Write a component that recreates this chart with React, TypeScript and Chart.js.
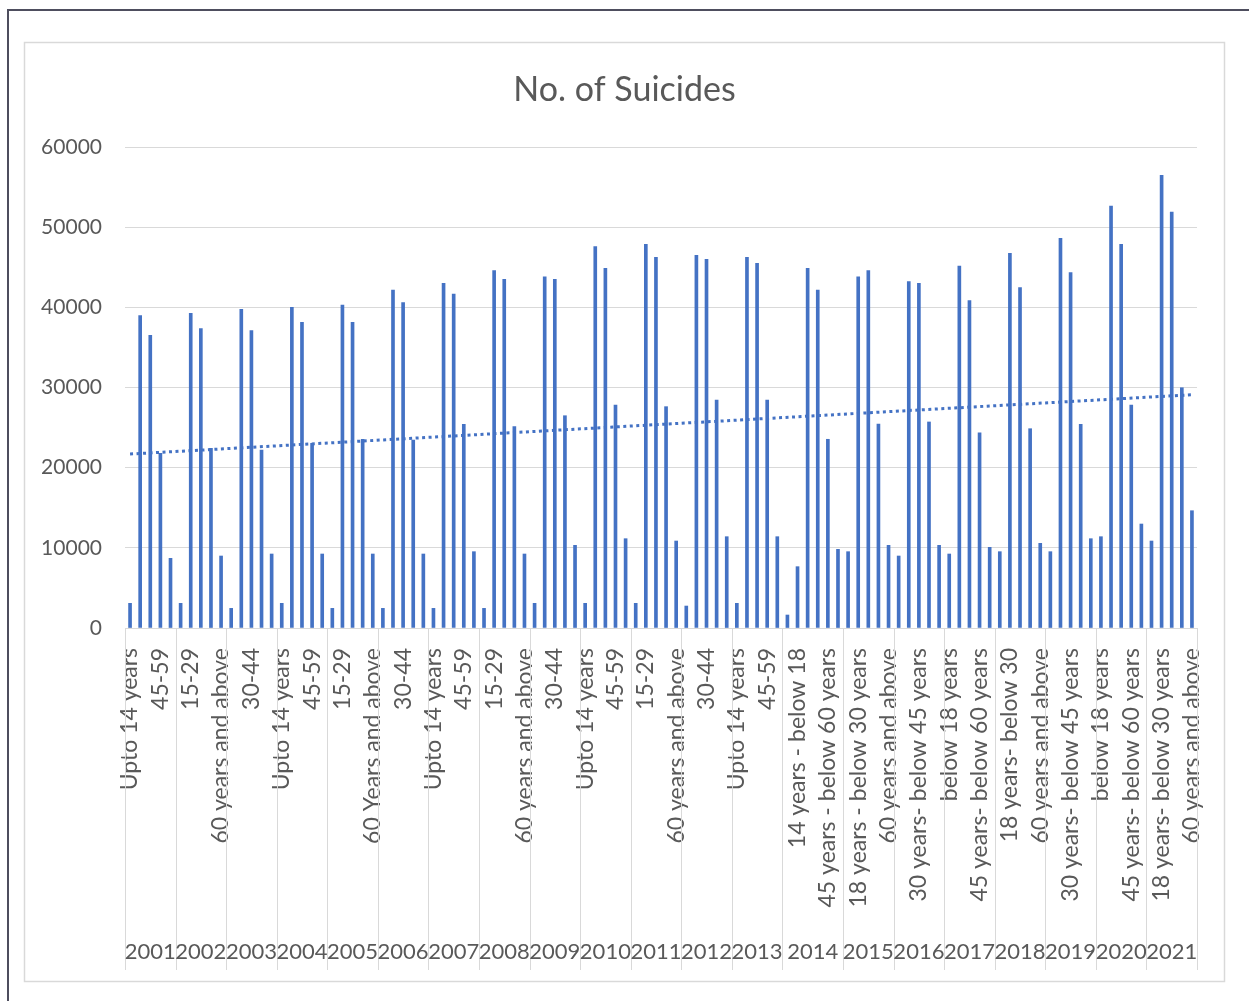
import React, { useEffect, useRef } from 'react';
import { Chart, registerables } from 'chart.js';

Chart.register(...registerables);

// ---------- data ----------
const years = [
  '2001', '2002', '2003', '2004', '2005', '2006', '2007', '2008', '2009', '2010',
  '2011', '2012', '2013', '2014', '2015', '2016', '2017', '2018', '2019', '2020', '2021',
];

const ageLabelsOld = ['Upto 14 years', '15-29', '30-44', '45-59', '60 years and above'];
const ageLabels2005 = ['Upto 14 years', '15-29', '30-44', '45-59', '60 Years and above'];
const ageLabels2014 = [
  'Below 14 years', '14 years - below 18', '18 years - below 30 years',
  '30 years - below 45 years', '45 years - below 60 years', '60 years and above',
];
const ageLabels2015 = [
  'below 18 years', '18 years - below 30 years', '30 years - below 45 years',
  '45 years - below 60 years', '60 years and above',
];
const ageLabelsNew = [
  'below 18 years', '18 years- below 30 years', '30 years- below 45 years',
  '45 years- below 60 years', '60 years and above',
];
const ageLabels2018 = [
  'below 18 years', '18 years- below 30', '30 years- below 45 years',
  '45 years- below 60 years', '60 years and above',
];

const ageLabelsByYear = [
  ageLabelsOld, ageLabelsOld, ageLabelsOld, ageLabelsOld, ageLabels2005,
  ageLabelsOld, ageLabelsOld, ageLabelsOld, ageLabelsOld, ageLabelsOld,
  ageLabelsOld, ageLabelsOld, ageLabelsOld, ageLabels2014, ageLabels2015,
  ageLabelsNew, ageLabelsNew, ageLabels2018, ageLabelsNew, ageLabelsNew, ageLabelsNew,
];

const suicidesByYear = [
  [3080, 38960, 36510, 21790, 8690], // 2001
  [3080, 39250, 37340, 22410, 8980], // 2002
  [2450, 39750, 37090, 22200, 9230], // 2003
  [3080, 40000, 38130, 23040, 9230], // 2004
  [2450, 40290, 38130, 23540, 9230], // 2005
  [2450, 42160, 40580, 23450, 9230], // 2006
  [2450, 43000, 41660, 25400, 9520], // 2007
  [2450, 44570, 43490, 25110, 9230], // 2008
  [3080, 43820, 43490, 26480, 10310], // 2009
  [3080, 47570, 44860, 27820, 11140], // 2010
  [3080, 47850, 46230, 27610, 10850], // 2011
  [2740, 46480, 45990, 28440, 11390], // 2012
  [3080, 46230, 45490, 28440, 11390], // 2013
  [1620, 7650, 44860, 42160, 23540, 9810], // 2014
  [9520, 43820, 44570, 25450, 10310], // 2015
  [8980, 43200, 43000, 25700, 10310], // 2016
  [9230, 45150, 40830, 24360, 10060], // 2017
  [9520, 46730, 42450, 24860, 10560], // 2018
  [9520, 48600, 44320, 25400, 11140], // 2019
  [11390, 52640, 47850, 27820, 12970], // 2020
  [10850, 56470, 51890, 29970, 14630], // 2021
];

// linear trendline end points
const trendStart = 21700;
const trendEnd = 29100;

const yTicks = [0, 10000, 20000, 30000, 40000, 50000, 60000];
const chartTitle = 'No. of Suicides';

// ---------- derived tables ----------
const categoryLabels: string[] = [];
const categoryYearIndex: number[] = [];
const values: number[] = [];
suicidesByYear.forEach((arr, yi) => {
  arr.forEach((v, ai) => {
    categoryLabels.push(ageLabelsByYear[yi][ai]);
    categoryYearIndex.push(yi);
    values.push(v);
  });
});
const trendData = categoryLabels.map((_, i) =>
  i === 0 ? trendStart : i === categoryLabels.length - 1 ? trendEnd : null
);

const TEXT = '#595959';
const GRID = '#d9d9d9';
const BLUE = '#4472C4';
const FONT = 'Lato';

const decorPlugin = {
  id: 'decor',
  beforeDraw(chart: any) {
    const ctx = chart.ctx;
    ctx.save();
    ctx.fillStyle = '#ffffff';
    ctx.fillRect(0, 0, chart.width, chart.height);
    ctx.restore();
  },
  afterDraw(chart: any) {
    const ctx = chart.ctx;
    const xs = chart.scales.x;
    const area = chart.chartArea;
    ctx.save();
    // outer frame (top + left)
    ctx.strokeStyle = '#4e4e5e';
    ctx.lineWidth = 2;
    ctx.beginPath();
    ctx.moveTo(8, chart.height);
    ctx.lineTo(8, 10);
    ctx.lineTo(chart.width, 10);
    ctx.stroke();
    // chart area border
    ctx.strokeStyle = GRID;
    ctx.lineWidth = 1.5;
    ctx.strokeRect(24.5, 42.5, 1200, 939);

    // title
    ctx.fillStyle = TEXT;
    ctx.font = `34px ${FONT}`;
    ctx.textAlign = 'center';
    ctx.textBaseline = 'middle';
    ctx.fillText(chartTitle, 624.5, 90);

    // year group separators + labels
    const n = categoryLabels.length;
    const half = (xs.getPixelForTick(1) - xs.getPixelForTick(0)) / 2;
    const sepTop = area.bottom;
    const sepBottom = 970;
    ctx.strokeStyle = GRID;
    ctx.lineWidth = 1;
    let start = 0;
    ctx.font = `22px ${FONT}`;
    for (let i = 1; i <= n; i++) {
      if (i === n || categoryYearIndex[i] !== categoryYearIndex[start]) {
        const left = xs.getPixelForTick(start) - half;
        const right = xs.getPixelForTick(i - 1) + half;
        ctx.beginPath();
        ctx.moveTo(Math.round(left) + 0.5, sepTop);
        ctx.lineTo(Math.round(left) + 0.5, sepBottom);
        ctx.stroke();
        if (i === n) {
          ctx.beginPath();
          ctx.moveTo(Math.round(right) + 0.5, sepTop);
          ctx.lineTo(Math.round(right) + 0.5, sepBottom);
          ctx.stroke();
        }
        ctx.fillText(years[categoryYearIndex[start]], (left + right) / 2, 952);
        start = i;
      }
    }
    ctx.restore();
  },
};

export default function App() {
  const ref = useRef<HTMLCanvasElement | null>(null);
  useEffect(() => {
    if (!ref.current) return;
    const chart = new Chart(ref.current, {
      type: 'bar',
      data: {
        labels: categoryLabels,
        datasets: [
          {
            type: 'line',
            label: 'Linear (No. of Suicides)',
            data: trendData,
            borderColor: BLUE,
            borderWidth: 3,
            borderDash: [3, 3.5],
            pointRadius: 0,
            spanGaps: true,
            fill: false,
            order: 0,
          } as any,
          {
            type: 'bar',
            label: 'No. of Suicides',
            data: values,
            backgroundColor: BLUE,
            barThickness: 3,
            order: 1,
          },
        ],
      },
      options: {
        responsive: false,
        animation: false,
        devicePixelRatio: 1,
        layout: { padding: { left: 0, right: 52, top: 147, bottom: 0 } },
        plugins: {
          legend: { display: false },
          tooltip: { enabled: false },
          title: { display: false },
        },
        scales: {
          x: {
            type: 'category',
            offset: true,
            grid: { display: false },
            border: { display: true, color: GRID, width: 1 },
            ticks: {
              autoSkip: false,
              maxRotation: 90,
              minRotation: 90,
              padding: 12,
              color: TEXT,
              font: { family: FONT, size: 23 },
              callback: (_v: any, i: number) => (i % 3 === 0 ? categoryLabels[i] : ''),
            },
            afterFit: (scale: any) => {
              scale.height = 373;
            },
          },
          y: {
            min: yTicks[0],
            max: yTicks[yTicks.length - 1],
            grid: { color: GRID, drawTicks: false },
            border: { display: false },
            ticks: {
              stepSize: yTicks[1] - yTicks[0],
              padding: 23,
              color: TEXT,
              font: { family: FONT, size: 21 },
              callback: (v: any) => String(v),
            },
            afterFit: (scale: any) => {
              scale.width = 125;
            },
          },
        },
      },
      plugins: [decorPlugin],
    });
    return () => chart.destroy();
  }, []);
  return (
    <div style={{ position: 'absolute', left: 0, top: 0, width: 1249, height: 1001 }}>
      <canvas ref={ref} width={1249} height={1001} />
    </div>
  );
}
